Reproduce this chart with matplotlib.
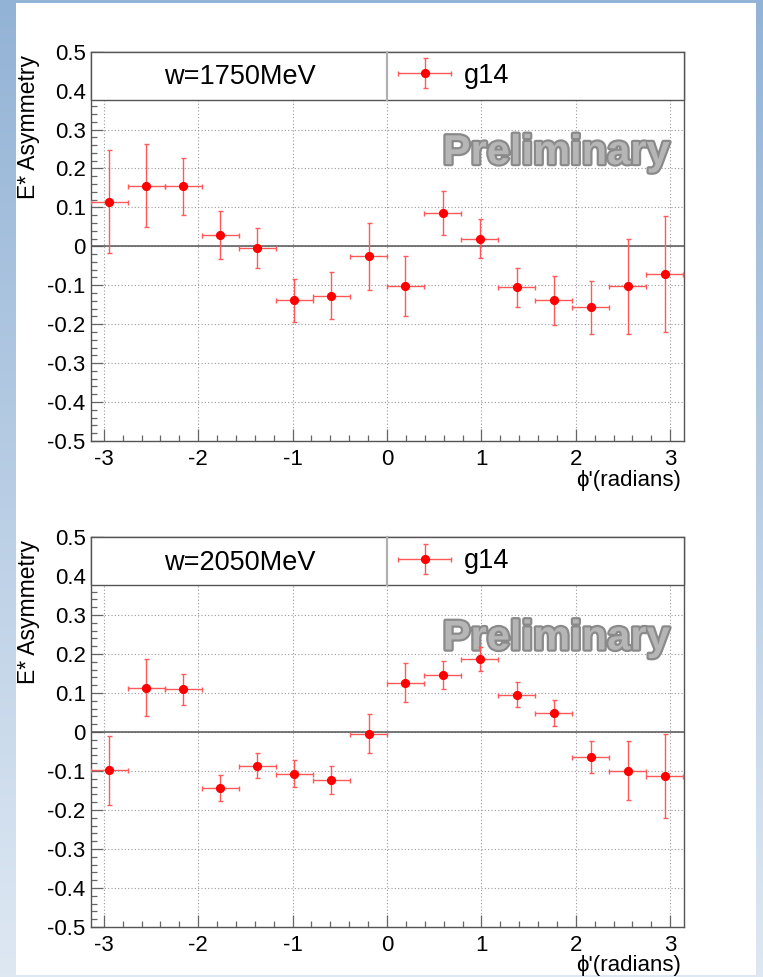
import numpy as np
import matplotlib
matplotlib.use("Agg")
import matplotlib.pyplot as plt
from matplotlib.patches import Rectangle
import matplotlib.patheffects as pe
from matplotlib.ticker import MultipleLocator
from matplotlib.legend_handler import HandlerErrorbar
from matplotlib.container import ErrorbarContainer

plt.rcParams['font.family'] = ['Liberation Sans', 'DejaVu Sans']

# ---------------- data ----------------
phi = [-2.945, -2.553, -2.160, -1.767, -1.374, -0.982, -0.589, -0.196,
       0.196, 0.589, 0.982, 1.374, 1.767, 2.160, 2.553, 2.945]
phi_halfbin = 0.196

titles = ["w=1750MeV", "w=2050MeV"]
series_label = "g14"

E_1750 = [0.115, 0.156, 0.154, 0.030, -0.004, -0.139, -0.127, -0.026,
          -0.103, 0.085, 0.020, -0.105, -0.139, -0.157, -0.103, -0.072]
err_1750 = [0.133, 0.106, 0.073, 0.062, 0.052, 0.055, 0.060, 0.087,
            0.077, 0.056, 0.051, 0.050, 0.062, 0.069, 0.122, 0.149]

E_2050 = [-0.098, 0.113, 0.109, -0.143, -0.087, -0.107, -0.123, -0.004,
          0.126, 0.146, 0.188, 0.095, 0.049, -0.065, -0.099, -0.112]
err_2050 = [0.089, 0.073, 0.039, 0.033, 0.032, 0.034, 0.037, 0.051,
            0.050, 0.035, 0.031, 0.032, 0.034, 0.041, 0.076, 0.108]

yticks = [-0.5, -0.4, -0.3, -0.2, -0.1, 0, 0.1, 0.2, 0.3, 0.4, 0.5]
ytick_labels = ["-0.5", "-0.4", "-0.3", "-0.2", "-0.1", "0", "0.1", "0.2", "0.3", "0.4", "0.5"]
xticks = [-3, -2, -1, 0, 1, 2, 3]
xtick_labels = ["-3", "-2", "-1", "0", "1", "2", "3"]
ylabel = "E* Asymmetry"
xlabel = "\u03d5'(radians)"
watermark = "Preliminary"

# ---------------- figure ----------------
W, H = 763, 977
fig = plt.figure(figsize=(W / 100, H / 100), dpi=100)

# slide background gradient
bg = fig.add_axes([0, 0, 1, 1])
bg.set_axis_off()
top_c = np.array([0x93, 0xb3, 0xd6]) / 255
bot_c = np.array([0xde, 0xe8, 0xf3]) / 255
t = np.linspace(0, 1, 256)[:, None]
grad = top_c[None, None, :] * (1 - t[..., None]) + bot_c[None, None, :] * t[..., None]
grad = np.repeat(grad, 2, axis=1)
bg.imshow(grad, aspect='auto', extent=[0, 1, 0, 1], origin='upper')
bg.add_patch(Rectangle((16 / W, 1 - 975 / H), (756 - 16) / W, (975 - 3) / H,
                       facecolor='white', edgecolor='none'))
bg.set_xlim(0, 1)
bg.set_ylim(0, 1)

frame_col = '#555555'
left = 90.5 / W
width = (683.5 - 90.5) / W
panels = [
    dict(top=51.7, bottom=441.0, E=E_1750, err=err_1750, title=titles[0]),
    dict(top=537.0, bottom=927.0, E=E_2050, err=err_2050, title=titles[1]),
]

for p in panels:
    ax = fig.add_axes([left, 1 - p['bottom'] / H, width, (p['bottom'] - p['top']) / H])
    ax.set_xlim(-np.pi, np.pi)
    ax.set_ylim(-0.5, 0.5)
    for s in ax.spines.values():
        s.set_color(frame_col)
        s.set_linewidth(1.0)
    ax.xaxis.set_major_locator(MultipleLocator(1))
    ax.xaxis.set_minor_locator(MultipleLocator(0.2))
    ax.yaxis.set_minor_locator(MultipleLocator(0.02))
    ax.set_xticks(xticks)
    ax.set_xticklabels(xtick_labels)
    ax.set_yticks(yticks)
    ax.set_yticklabels(ytick_labels)
    ax.tick_params(which='both', direction='in', top=False, right=False, color='#666666')
    ax.tick_params(which='major', length=8.5, width=0.9, labelsize=16, pad=3.5)
    ax.tick_params(which='minor', length=4.3, width=0.9)
    ax.tick_params(axis='x', which='major', pad=6)
    ax.grid(True, which='major', color='#9a9a9a', linestyle=(0, (1, 2)), linewidth=0.8)
    ax.set_axisbelow(True)
    ax.axhline(0, color=frame_col, lw=1.1, zorder=1.5)

    cont = ax.errorbar(phi, p['E'], yerr=p['err'], xerr=phi_halfbin, fmt='o',
                       color='red', markersize=5.6, ecolor=(1, 0.35, 0.35),
                       elinewidth=1.0, capsize=1.8, capthick=1.0, zorder=4,
                       label=series_label)

    # header box (title + legend)
    ax.add_patch(Rectangle((0, 0.876), 1, 0.124, transform=ax.transAxes,
                           facecolor='white', edgecolor=frame_col, lw=1.0,
                           zorder=3.5, clip_on=False))
    ax.plot([0.5, 0.5], [0.876, 1.0], transform=ax.transAxes, color='#b0b0b0',
            lw=1.6, zorder=3.6, clip_on=False)
    ax.text(0.252, 0.916, p['title'], transform=ax.transAxes, ha='center',
            va='baseline', fontsize=19.5, zorder=5)
    leg = ax.legend(handles=[cont], labels=[series_label], loc='center left',
                    bbox_to_anchor=(0.5, 0.938), frameon=False, fontsize=19.5,
                    handlelength=2.0, handletextpad=0.45, borderaxespad=0,
                    borderpad=0.4,
                    handler_map={ErrorbarContainer: HandlerErrorbar(xerr_size=0.98,
                                                                    yerr_size=0.55)})
    leg.set_zorder(6)

    # watermark
    ax.text(0.977, 0.7115, watermark, transform=ax.transAxes, ha='right',
            va='baseline', fontsize=30, fontweight='bold', color='#b6b6b6',
            zorder=3,
            path_effects=[pe.Stroke(linewidth=3.2, foreground='#8a8a8a'),
                          pe.Normal()])

    # axis titles
    fig.text(29 / W, 1 - (p['top'] + 3) / H, ylabel, rotation=90, ha='center',
             va='top', fontsize=16.5)
    fig.text(681 / W, 1 - (p['bottom'] + 39) / H, xlabel, ha='right',
             va='center', fontsize=16)

fig.savefig("out.png", dpi=100)
